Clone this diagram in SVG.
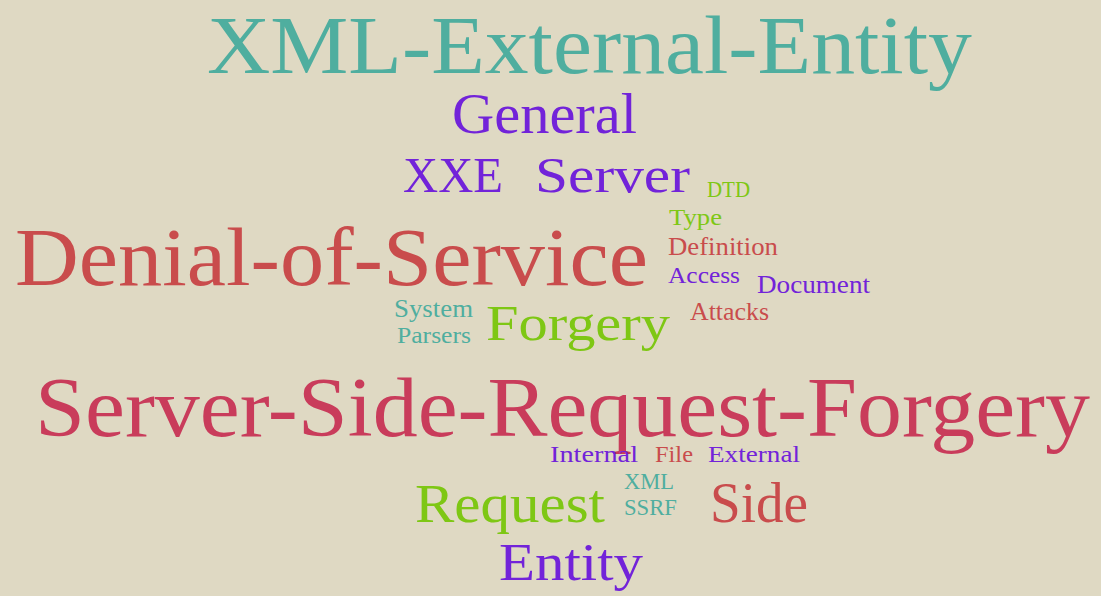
<svg xmlns="http://www.w3.org/2000/svg" width="1101" height="596" viewBox="0 0 1101 596">
<style>
text{font-family:"Liberation Serif","Times New Roman",serif;}
.t{fill:#4fae9f}.p{fill:#7223d9}.r{fill:#c94c4c}.g{fill:#7ec714}.c{fill:#c93c5b}
</style>
<rect width="1101" height="596" fill="#dfd9c3"/>
<g id="w-xml-external-entity"><text class="t" x="207" y="73" font-size="83" textLength="765" lengthAdjust="spacingAndGlyphs">XML-External-Entity</text></g>
<g id="w-general"><text class="p" x="452" y="133" font-size="57" textLength="185" lengthAdjust="spacingAndGlyphs">General</text></g>
<g id="w-xxe"><text class="p" x="403" y="192" font-size="51" textLength="100" lengthAdjust="spacingAndGlyphs">XXE</text></g>
<g id="w-server"><text class="p" x="535" y="192" font-size="51" textLength="155" lengthAdjust="spacingAndGlyphs">Server</text></g>
<g id="w-dtd"><text class="g" x="707" y="197" font-size="24" textLength="43" lengthAdjust="spacingAndGlyphs">DTD</text></g>
<g id="w-type"><text class="g" x="669" y="225" font-size="23" textLength="53" lengthAdjust="spacingAndGlyphs">Type</text></g>
<g id="w-definition"><text class="r" x="668" y="255" font-size="25" textLength="110" lengthAdjust="spacingAndGlyphs">Definition</text></g>
<g id="w-access"><text class="p" x="668" y="283" font-size="24" textLength="72" lengthAdjust="spacingAndGlyphs">Access</text></g>
<g id="w-document"><text class="p" x="757" y="293" font-size="25" textLength="113" lengthAdjust="spacingAndGlyphs">Document</text></g>
<g id="w-attacks"><text class="r" x="690" y="320" font-size="25" textLength="79" lengthAdjust="spacingAndGlyphs">Attacks</text></g>
<g id="w-denial-of-service"><text class="r" x="15" y="285" font-size="83" textLength="633" lengthAdjust="spacingAndGlyphs">Denial-of-Service</text></g>
<g id="w-system"><text class="t" x="394" y="317" font-size="25" textLength="79" lengthAdjust="spacingAndGlyphs">System</text></g>
<g id="w-parsers"><text class="t" x="397" y="343" font-size="24" textLength="74" lengthAdjust="spacingAndGlyphs">Parsers</text></g>
<g id="w-forgery"><text class="g" x="486" y="340" font-size="50" textLength="184" lengthAdjust="spacingAndGlyphs">Forgery</text></g>
<g id="w-ssrf-long"><text class="c" x="35" y="436" font-size="84" textLength="1055" lengthAdjust="spacingAndGlyphs">Server-Side-Request-Forgery</text></g>
<g id="w-internal"><text class="p" x="550" y="462" font-size="23" textLength="88" lengthAdjust="spacingAndGlyphs">Internal</text></g>
<g id="w-file"><text class="r" x="655" y="462" font-size="23" textLength="38" lengthAdjust="spacingAndGlyphs">File</text></g>
<g id="w-external"><text class="p" x="708" y="462" font-size="23" textLength="92" lengthAdjust="spacingAndGlyphs">External</text></g>
<g id="w-xml"><text class="t" x="624" y="489" font-size="24" textLength="50" lengthAdjust="spacingAndGlyphs">XML</text></g>
<g id="w-ssrf"><text class="t" x="624" y="515" font-size="24" textLength="53" lengthAdjust="spacingAndGlyphs">SSRF</text></g>
<g id="w-request"><text class="g" x="415" y="522" font-size="54" textLength="190" lengthAdjust="spacingAndGlyphs">Request</text></g>
<g id="w-side"><text class="r" x="710" y="522" font-size="56" textLength="98" lengthAdjust="spacingAndGlyphs">Side</text></g>
<g id="w-entity"><text class="p" x="499" y="580" font-size="53" textLength="144" lengthAdjust="spacingAndGlyphs">Entity</text></g>
</svg>
